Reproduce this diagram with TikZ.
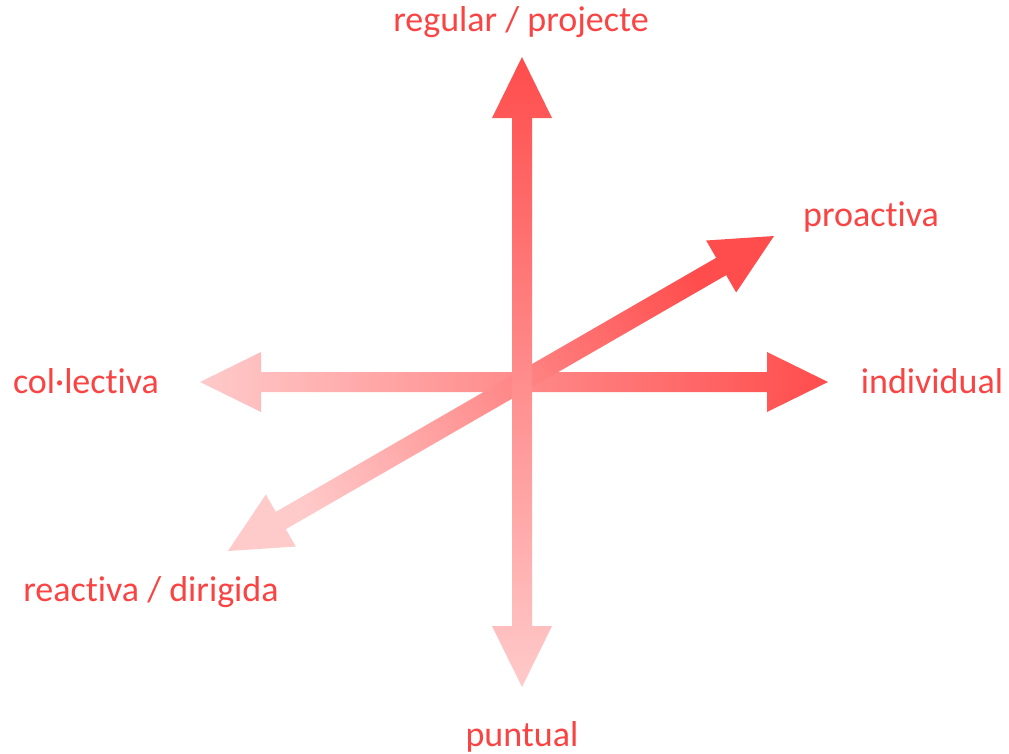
\documentclass[tikz,border=0pt]{standalone}
\usepackage{fontspec}
\setmainfont{Carlito}[Ligatures={NoCommon,NoRare,NoContextual}]
\usetikzlibrary{positioning}
\usetikzlibrary{calc}

\definecolor{labelred}{RGB}{250,68,68}
\definecolor{arrred}{RGB}{255,76,76}
\definecolor{arrpink}{RGB}{255,202,202}

% double arrow from pink tip #1 to red tip #2, shading angle #3
\newcommand\dblarrow[3]{%
	\coordinate (h1) at ($(#1)!61pt!(#2)$);
	\coordinate (h2) at ($(#2)!61pt!(#1)$);
	\path[axisshade, shading angle=#3] (#1)
		-- ($(h1)!30pt!90:(#2)$) -- ($(h1)!10pt!90:(#2)$)
		-- ($(h2)!10pt!-90:(#1)$) -- ($(h2)!30pt!-90:(#1)$)
		-- (#2)
		-- ($(h2)!30pt!90:(#1)$) -- ($(h2)!10pt!90:(#1)$)
		-- ($(h1)!10pt!-90:(#2)$) -- ($(h1)!30pt!-90:(#2)$)
		-- cycle;
}

\begin{document}
\begin{tikzpicture}[x=1pt,y=-1pt,
	axisshade/.style={left color=arrpink, right color=arrred},
	axislabel/.style={text=labelred, inner sep=0pt, anchor=base, font=\fontsize{36}{40}\selectfont}]
	\useasboundingbox (0,0) rectangle (1009,753);

	\coordinate (colTip) at (200,382);
	\coordinate (indTip) at (828,382);
	\coordinate (reaTip) at (228,551);
	\coordinate (proTip) at (774,236);
	\coordinate (punTip) at (522,687);
	\coordinate (regTip) at (522,57);

	\dblarrow{colTip}{indTip}{90}
	\dblarrow{reaTip}{proTip}{120}
	\dblarrow{punTip}{regTip}{180}

	\node[axislabel] (regular) at (521,31) {regular / projecte};
	\node[axislabel] (proactiva) at (871,226) {proactiva};
	\node[axislabel] (individual) at (932,393) {individual};
	\node[axislabel] (collectiva) at (86,393) {col·lectiva};
	\node[axislabel] (reactiva) at (151,601) {reactiva / dirigida};
	\node[axislabel] (puntual) at (522,746) {puntual};
\end{tikzpicture}
\end{document}
